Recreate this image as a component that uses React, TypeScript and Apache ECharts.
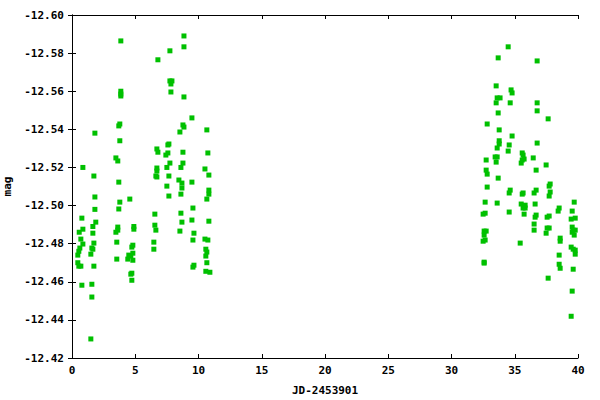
import React, { useEffect, useRef } from "react";
import * as echarts from "echarts";

const jd: number[] = [
  0.86, 1.81, 1.73, 1.81, 1.81, 0.78, 1.88, 1.65, 0.57, 0.86, 1.65, 0.70, 0.86, 1.73, 0.62, 1.57, 1.65, 0.54, 0.46, 1.49, 0.46, 0.54, 0.70, 1.73, 0.78, 1.57, 1.57, 1.49,
  3.86, 3.86, 3.86, 3.86, 3.78, 3.70, 3.78, 3.47, 3.62, 3.70, 3.78, 3.70, 4.57, 3.62, 3.62, 3.47, 3.54, 3.54, 4.89, 4.89, 4.81, 4.73, 4.81, 4.49, 4.65, 4.41, 4.81, 4.73, 4.65, 4.73,
  6.79, 7.74, 8.85, 8.85, 7.74, 7.90, 7.82, 7.82, 8.85, 9.48, 8.77, 8.85, 8.53, 10.66, 6.71, 6.79, 7.66, 7.58, 7.58, 7.42, 8.77, 10.74, 7.74, 8.77, 6.71, 7.50, 8.61, 10.51, 6.71, 6.71, 6.63, 7.66, 10.82, 8.45, 8.69, 9.48, 8.69, 7.50, 7.66, 8.61, 10.82, 10.82, 10.66, 9.56, 6.55, 8.61, 9.48, 10.82, 8.69, 6.55, 6.63, 8.53, 9.64, 6.47, 6.47, 9.56, 10.51, 10.74, 10.58, 10.66, 10.58, 10.66, 10.58, 10.90, 9.56, 9.64,
  34.48, 33.69, 36.77, 33.53, 34.71, 34.79, 33.61, 33.84, 33.53, 34.64, 36.77, 33.69, 36.77, 37.64, 32.82, 33.77, 34.79, 33.77, 33.77, 34.56, 33.61, 34.48, 36.77, 35.59, 35.66, 33.45, 33.61, 32.74, 35.74, 35.59, 33.53, 35.51, 36.46, 37.48, 32.74, 32.82, 36.69, 33.69, 37.80, 37.72, 32.82, 34.64, 34.56, 35.66, 35.59, 36.69, 36.53, 37.80, 37.72, 32.66, 33.61, 35.51, 35.82, 36.61, 35.66, 35.82, 39.70, 38.51, 38.43, 39.54, 32.50, 32.66, 34.56, 35.74, 36.69, 36.61, 37.72, 37.56, 39.46, 39.78, 36.53, 37.56, 37.72, 39.54, 39.62, 39.78, 36.53, 32.58, 32.74, 37.48, 39.54, 39.70, 32.58, 38.59, 38.59, 32.50, 32.66, 35.43, 39.46, 39.62, 39.78, 39.78, 38.51, 32.58, 32.58, 38.51, 38.59, 39.62, 37.64, 39.54, 39.46,
];

const mag: number[] = [
  -12.520, -12.538, -12.5155, -12.5045, -12.498, -12.4934, -12.4913, -12.489, -12.486, -12.4876, -12.4855, -12.4824, -12.4798, -12.4803, -12.4777, -12.4777, -12.4771, -12.476, -12.474, -12.4745, -12.470, -12.4682, -12.4682, -12.4682, -12.4582, -12.4587, -12.452, -12.430,
  -12.5864, -12.560, -12.5585, -12.5575, -12.5428, -12.5418, -12.534, -12.525, -12.5234, -12.5123, -12.5018, -12.4982, -12.5034, -12.4887, -12.4871, -12.486, -12.4808, -12.4719, -12.489, -12.4876, -12.4792, -12.4782, -12.475, -12.474, -12.4735, -12.4719, -12.4713, -12.4645, -12.464, -12.4608,
  -12.5765, -12.5812, -12.589, -12.5833, -12.5654, -12.5654, -12.5638, -12.5596, -12.557, -12.546, -12.5423, -12.5412, -12.5386, -12.5397, -12.5297, -12.528, -12.5323, -12.5318, -12.5276, -12.5265, -12.528, -12.5276, -12.5223, -12.5223, -12.5197, -12.520, -12.520, -12.5192, -12.5181, -12.515, -12.5155, -12.5155, -12.516, -12.5134, -12.5118, -12.5123, -12.5092, -12.5102, -12.505, -12.506, -12.5081, -12.506, -12.5034, -12.4987, -12.4955, -12.496, -12.4924, -12.4918, -12.4913, -12.4897, -12.4871, -12.4866, -12.4855, -12.4808, -12.4771, -12.4819, -12.4824, -12.4819, -12.4771, -12.4756, -12.4735, -12.470, -12.4655, -12.465, -12.4677, -12.4687,
  -12.5833, -12.5775, -12.5759, -12.5628, -12.5607, -12.5591, -12.5565, -12.5565, -12.5539, -12.5539, -12.5539, -12.5486, -12.5497, -12.5455, -12.5428, -12.5397, -12.5365, -12.534, -12.5323, -12.5318, -12.5302, -12.5286, -12.5328, -12.5276, -12.5265, -12.5255, -12.5255, -12.5239, -12.5244, -12.5239, -12.5228, -12.5223, -12.525, -12.5213, -12.5186, -12.5165, -12.5186, -12.5144, -12.5113, -12.5102, -12.5097, -12.5081, -12.5066, -12.5066, -12.506, -12.5081, -12.5066, -12.5071, -12.505, -12.5018, -12.5013, -12.5008, -12.5002, -12.5008, -12.4987, -12.4987, -12.5018, -12.4987, -12.4971, -12.4971, -12.4955, -12.496, -12.4966, -12.4955, -12.495, -12.4939, -12.4945, -12.4939, -12.4929, -12.4934, -12.4903, -12.4882, -12.4882, -12.4887, -12.4871, -12.4871, -12.4871, -12.4866, -12.4866, -12.4855, -12.486, -12.4845, -12.4845, -12.4829, -12.4813, -12.4813, -12.4819, -12.4803, -12.4782, -12.4771, -12.4766, -12.4745, -12.474, -12.4703, -12.4698, -12.4692, -12.4671, -12.4666, -12.4619, -12.4551, -12.4419,
];

const xTitle = "JD-2453901";
const yTitle = "mag";

const FONT = "'DejaVu Sans Mono', monospace";

export default function App() {
  const ref = useRef<HTMLDivElement>(null);
  useEffect(() => {
    if (!ref.current) return;
    const chart = echarts.init(ref.current, undefined, { renderer: "svg" });
    const points = jd.map((x, i) => [x, mag[i]]);
    const labelStyle = { color: "#000", fontFamily: FONT, fontSize: 11, fontWeight: "bold" as const };
    const lineStyle = { color: "#000", width: 1 };
    chart.setOption({
      animation: false,
      backgroundColor: "#fff",
      grid: { left: 72, right: 22, top: 15, bottom: 42, containLabel: false, outerBoundsMode: "none" },
      xAxis: [
        {
          type: "value",
          min: 0,
          max: 40,
          interval: 5,
          name: xTitle,
          nameLocation: "middle",
          nameGap: 27,
          nameTextStyle: labelStyle,
          axisLine: { show: true, lineStyle },
          axisTick: { show: true, inside: true, length: 4, lineStyle },
          axisLabel: { ...labelStyle, margin: 7 },
          splitLine: { show: false },
        },
        {
          type: "value",
          position: "top",
          min: 0,
          max: 40,
          interval: 5,
          axisLine: { show: true, lineStyle },
          axisTick: { show: true, inside: true, length: 4, lineStyle },
          axisLabel: { show: false },
          splitLine: { show: false },
        },
      ],
      yAxis: [
        {
          type: "value",
          min: -12.6,
          max: -12.42,
          interval: 0.02,
          inverse: true,
          name: yTitle,
          nameLocation: "middle",
          nameGap: 56,
          nameRotate: 90,
          nameTextStyle: labelStyle,
          axisLine: { show: true, lineStyle },
          axisTick: { show: true, inside: true, length: 4, lineStyle },
          axisLabel: { ...labelStyle, margin: 8, formatter: (v: number) => v.toFixed(2) },
          splitLine: { show: false },
        },
        {
          type: "value",
          position: "right",
          min: -12.6,
          max: -12.42,
          interval: 0.02,
          inverse: true,
          axisLine: { show: true, lineStyle },
          axisTick: { show: true, inside: true, length: 4, lineStyle },
          axisLabel: { show: false },
          splitLine: { show: false },
        },
      ],
      series: [
        {
          type: "scatter",
          xAxisIndex: 0,
          yAxisIndex: 0,
          data: points,
          symbol: "rect",
          symbolSize: 5,
          itemStyle: { color: "#00c000", opacity: 1 },
        },
      ],
    });
    return () => chart.dispose();
  }, []);
  return <div ref={ref} style={{ width: 600, height: 400, position: "absolute", left: 0, top: 0 }} />;
}
